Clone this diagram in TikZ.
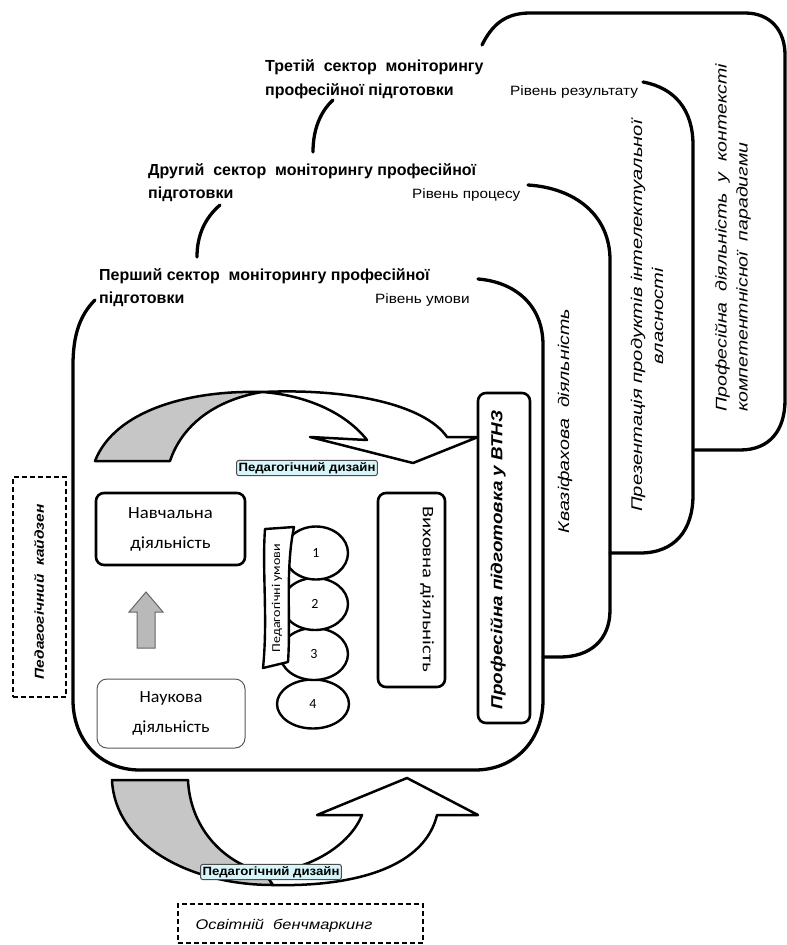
\documentclass[tikz,border=0pt]{standalone}
\usepackage{fontspec}
\setmainfont{Liberation Sans}
\newfontfamily\calf{Carlito}
\usetikzlibrary{shapes.geometric}
\definecolor{labelfill}{HTML}{D6F6F9}
\definecolor{arrowgray}{HTML}{C6C6C6}
\newcommand\wx[2]{\scalebox{#1}[1]{#2}}
\begin{document}
\begin{tikzpicture}[x=1pt,y=-1pt,
  sect/.style={line width=3.3pt, line cap=round},
  blk/.style={line width=2.5pt, line join=round},
  box/.style={draw, line width=2.6pt, rounded corners=8pt, fill=white, inner sep=0pt},
  lab/.style={draw=black!70, line width=1pt, fill=labelfill, rounded corners=2.5pt, inner sep=2pt, font=\fontsize{12}{13}\selectfont\bfseries},
  dbox/.style={draw, dashed, line width=1.1pt, dash pattern=on 5pt off 3pt, inner sep=0pt},
  hdr/.style={font=\fontsize{16}{18}\selectfont\bfseries, anchor=base west, inner sep=0pt},
  lvl/.style={font=\fontsize{13.5}{15}\selectfont, anchor=base west, inner sep=0pt},
  vit/.style={font=\fontsize{15.5}{21}\selectfont\itshape, rotate=90, inner sep=0pt},
  ell/.style={ellipse, draw, line width=2.4pt, fill=white, inner sep=0pt, font=\calf\fontsize{14}{15}\selectfont},
]
\useasboundingbox (0,0) rectangle (787,945);
\fill[white] (0,0) rectangle (787,945);

% ---- sectors ----
\draw[sect] (482,45) .. controls (492,25) and (505,13) .. (530,13) -- (745,13) .. controls (770,13) and (785,30) .. (785,55) -- (785,400) .. controls (785,430) and (770,450) .. (740,450) -- (695,450);
\draw[sect] (643,82) .. controls (675,88) and (693,110) .. (693,145) -- (693,495) .. controls (693,530) and (675,553) .. (640,553) -- (610,553);
\draw[sect] (313,152) .. controls (313,130) and (320,112) .. (333,100);
\draw[sect] (528,185) .. controls (575,188) and (610,215) .. (610,260) -- (610,610) .. controls (610,640) and (590,657) .. (560,657) -- (543,657);
\draw[sect] (197,257) .. controls (197,235) and (205,218) .. (220,205);
\draw[sect] (95,300) .. controls (80,315) and (73,335) .. (73,365) -- (73,700) .. controls (73,740) and (100,770) .. (140,770) -- (475,770) .. controls (515,770) and (543,740) .. (543,700) -- (543,345) .. controls (543,305) and (515,282) .. (478,279);

% ---- headers ----
\node[hdr] (h3a) at (265,71) {Третій\ \ сектор\ \ моніторингу};
\node[hdr] (h3b) at (265,95) {професійної підготовки};
\node[lvl] (l3) at (510,95) {\wx{1.14}{Рівень результату}};
\node[hdr] (h2a) at (148,175) {Другий\ \ сектор\ \ моніторингу професійної};
\node[hdr] (h2b) at (148,198) {підготовки};
\node[lvl] (l2) at (412,198) {\wx{1.13}{Рівень процесу}};
\node[hdr] (h1a) at (99,280) {Перший сектор\ \ моніторингу професійної};
\node[hdr] (h1b) at (99,303) {підготовки};
\node[lvl] (l1) at (375,303) {\wx{1.14}{Рівень умови}};

% ---- sector texts ----
\node[vit] (kv) at (565,421) {\wx{1.27}{Квазіфахова\ \ діяльність}};
\node[vit, align=center] (pr) at (647,316) {\wx{1.3}{Презентація продуктів інтелектуальної}\\\wx{1.3}{власності}};
\node[vit, align=left, anchor=west] (pd) at (733,412) {\wx{1.26}{Професійна\ \ діяльність\ \ у\ \ контексті}\\\wx{1.26}{компетентнісної\ \ парадигми}};

% ---- top curved arrow ----
\filldraw[blk, fill=arrowgray] (95,461) .. controls (115,410) and (190,390) .. (262,392) .. controls (215,400) and (182,425) .. (170,461) -- cycle;
\filldraw[blk, fill=white] (262,392) .. controls (350,388) and (425,405) .. (447,437) -- (478,437) -- (413,463) -- (310,437) -- (367,440) .. controls (345,412) and (305,395) .. (262,392) -- cycle;
\node[lab] (pd1) at (307,468) {\wx{1.1}{Педагогічний дизайн}};

% ---- bottom curved arrow ----
\filldraw[blk, fill=arrowgray] (112,780) -- (188,780) .. controls (190,825) and (220,862) .. (265,873) -- (273,885) .. controls (190,885) and (115,845) .. (112,780) -- cycle;
\filldraw[blk, fill=white] (265,873) .. controls (310,870) and (350,845) .. (362,815) -- (317,815) -- (407,778) -- (478,815) -- (437,815) .. controls (425,865) and (360,887) .. (273,885) -- cycle;
\node[lab] (pd2) at (271,872) {\wx{1.1}{Педагогічний дизайн}};

% ---- inner boxes ----
\node[box, minimum width=149pt, minimum height=72pt, align=center, font=\calf\fontsize{17}{30}\selectfont] (nav) at (170.5,529) {\wx{1.1}{Навчальна}\\\wx{1.1}{діяльність}};
\node[draw=black!65, line width=1pt, rounded corners=10pt, minimum width=148pt, minimum height=69pt, align=center, inner sep=0pt, font=\calf\fontsize{17}{30}\selectfont] (nauk) at (171,713.5) {\wx{1.06}{Наукова}\\\wx{1.06}{діяльність}};
\filldraw[fill=gray!55, draw=black!60, line width=1pt] (146,592) -- (163,612) -- (155,612) -- (155,648) -- (137,648) -- (137,612) -- (129,612) -- cycle;

\node[box, minimum width=67pt, minimum height=194pt] (vykh) at (411.5,590) {};
\node[rotate=-90, inner sep=0pt, font=\calf\fontsize{16}{17}\selectfont] (vykhT) at (427,589) {\wx{1.29}{Виховна діяльність}};

\node[box, minimum width=52pt, minimum height=330pt] (ptn) at (504,558) {};
\node[rotate=90, inner sep=0pt, font=\fontsize{16}{17}\selectfont\bfseries\itshape] (ptnT) at (498,560) {\wx{1.18}{Професійна підготовка у ВТНЗ}};

% ---- conditions ----
\node[ell, minimum width=72pt, minimum height=49pt] (c4) at (313,704) {4};
\node[ell, minimum width=68pt, minimum height=52pt] (c3) at (314,654) {3};
\node[ell, minimum width=66pt, minimum height=52pt] (c2) at (315,604) {2};
\node[ell, minimum width=64pt, minimum height=53pt] (c1) at (316,553) {1};
\filldraw[fill=white, line width=2.4pt, line join=round] (265,529) -- (294,527) .. controls (285,570) and (291,620) .. (288,662) -- (263,668) .. controls (268,620) and (262,570) .. (265,529) -- cycle;
\node[rotate=90, inner sep=0pt, font=\calf\fontsize{12}{13}\selectfont] (cond) at (277,598) {\wx{1.17}{Педагогічні умови}};

% ---- dashed boxes ----
\node[dbox, minimum width=53pt, minimum height=220pt] (kz) at (39.5,587) {};
\node[rotate=90, inner sep=0pt, font=\fontsize{13}{14}\selectfont\bfseries\itshape] (kzT) at (39,592) {\wx{1.19}{Педагогічний\ \ кайдзен}};
\node[dbox, minimum width=245pt, minimum height=39pt] (bm) at (300.5,923.5) {};
\node[inner sep=0pt, font=\fontsize{14}{15}\selectfont\itshape] (bmT) at (284,926) {\wx{1.17}{Освітній\ \ бенчмаркинг}};
\end{tikzpicture}
\end{document}
